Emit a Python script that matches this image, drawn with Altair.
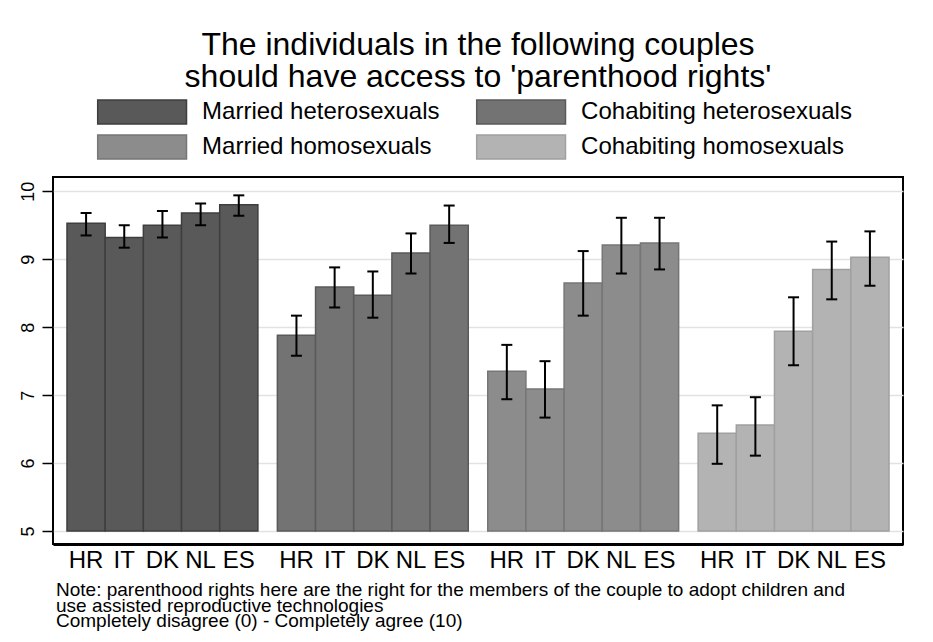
import altair as alt
import pandas as pd

title_lines = ["The individuals in the following couples",
               "should have access to 'parenthood rights'"]
couples = ["Married heterosexuals", "Cohabiting heterosexuals",
           "Married homosexuals", "Cohabiting homosexuals"]
countries = ["HR", "IT", "DK", "NL", "ES"]
fill_colors = ["#595959", "#737373", "#8c8c8c", "#b3b3b3"]
edge_colors = ["#3e3e3e", "#5a5a5a", "#767676", "#a0a0a0"]

# means and 95% CI bounds, one list per couple type (order: HR, IT, DK, NL, ES)
mean_mhet = [9.53, 9.32, 9.50, 9.68, 9.80]
lo_mhet = [9.35, 9.17, 9.32, 9.50, 9.64]
hi_mhet = [9.68, 9.50, 9.71, 9.82, 9.94]

mean_chet = [7.88, 8.59, 8.47, 9.09, 9.50]
lo_chet = [7.58, 8.29, 8.14, 8.79, 9.24]
hi_chet = [8.17, 8.88, 8.82, 9.38, 9.79]

mean_mhom = [7.35, 7.09, 8.65, 9.21, 9.24]
lo_mhom = [6.94, 6.67, 8.17, 8.79, 8.85]
hi_mhom = [7.74, 7.50, 9.12, 9.61, 9.61]

mean_chom = [6.44, 6.56, 7.94, 8.85, 9.03]
lo_chom = [5.99, 6.11, 7.44, 8.41, 8.61]
hi_chom = [6.85, 6.97, 8.44, 9.26, 9.41]

y_ticks = [5, 6, 7, 8, 9, 10]
note_lines = [
    "Note: parenthood rights here are the right for the members of the couple to adopt children and",
    "use assisted reproductive technologies",
    "Completely disagree (0) - Completely agree (10)",
]

series = [
    (couples[0], mean_mhet, lo_mhet, hi_mhet),
    (couples[1], mean_chet, lo_chet, hi_chet),
    (couples[2], mean_mhom, lo_mhom, hi_mhom),
    (couples[3], mean_chom, lo_chom, hi_chom),
]
rows = []
for name, m, lo, hi in series:
    for c, mv, lv, hv in zip(countries, m, lo, hi):
        rows.append({"couple": name, "country": c, "mean": mv, "lo": lv, "hi": hv})
df = pd.DataFrame(rows)
note_df = pd.DataFrame({"note": ["\n".join(note_lines)]})

FONT = "Liberation Sans"

# wide, flat swatch: path extends beyond the unit box so the legend rows stay compact
legend = alt.Legend(
    title=None, orient="none", legendX=44.6, legendY=-78, columns=2,
    direction="horizontal",
    columnPadding=34, rowPadding=5, padding=0,
    symbolType="M-3.7,-1H3.7V1H-3.7Z", symbolSize=576, symbolStrokeWidth=1.5,
    symbolOffset=31.5,
    symbolOpacity=1, labelFontSize=24, labelOffset=47, labelColor="black",
    labelFont=FONT, labelLimit=500,
)

base = alt.Chart(df).encode(
    x=alt.X("couple:N",
            scale=alt.Scale(domain=couples, paddingInner=0.0926, paddingOuter=0.0665),
            axis=alt.Axis(labels=False, ticks=False, title=None, grid=False,
                          domain=True, domainColor="black", domainWidth=3)),
    xOffset=alt.XOffset("country:N",
                        scale=alt.Scale(domain=countries, paddingInner=0, paddingOuter=0)),
)

yscale = alt.Scale(domain=[4.81, 10.21], nice=False, zero=False)

bars = base.mark_bar(strokeWidth=1.5, opacity=1).encode(
    y=alt.Y("mean:Q", scale=yscale, title=None,
            axis=alt.Axis(values=y_ticks, format="d", title=None, labelAngle=270,
                          labelAlign="center", labelBaseline="alphabetic", labelPadding=9,
                          labelFontSize=18, labelColor="black", labelFont=FONT,
                          tickSize=11, tickColor="black", tickWidth=1.5,
                          domain=False, grid=True, gridColor="#e2e2e2", gridWidth=1.5)),
    y2=alt.datum(5),
    fill=alt.Fill("couple:N", scale=alt.Scale(domain=couples, range=fill_colors), legend=legend),
    stroke=alt.Stroke("couple:N", scale=alt.Scale(domain=couples, range=edge_colors), legend=legend),
)

rules = base.mark_rule(color="black", strokeWidth=2).encode(
    y=alt.Y("lo:Q", scale=yscale, title=None), y2="hi:Q")
caps_lo = base.mark_tick(color="black", thickness=2, size=11, opacity=1).encode(
    y=alt.Y("lo:Q", scale=yscale, title=None))
caps_hi = base.mark_tick(color="black", thickness=2, size=11, opacity=1).encode(
    y=alt.Y("hi:Q", scale=yscale, title=None))

labels = base.mark_text(fontSize=24, color="black", baseline="middle", font=FONT).encode(
    y=alt.value(384), text="country:N")

notes = alt.Chart(note_df).mark_text(
    align="left", baseline="top", fontSize=19, lineHeight=15.5, lineBreak="\n",
    color="black", font=FONT,
).encode(x=alt.value(3), y=alt.value(404), text="note:N")

chart = alt.layer(bars, rules, caps_lo, caps_hi, labels, notes).properties(
    width=850, height=367,
    title=alt.TitleParams(text=title_lines, fontSize=32, font=FONT, fontWeight="normal",
                          color="black", anchor="middle", lineHeight=32, offset=5),
    autosize=alt.AutoSizeParams(type="none"),
    padding={"left": 45, "top": 169, "right": 22, "bottom": 88},
).configure(font=FONT).configure_view(stroke="black", strokeWidth=2)

chart.save("out.html", embed_options={"renderer": "svg", "actions": False})
